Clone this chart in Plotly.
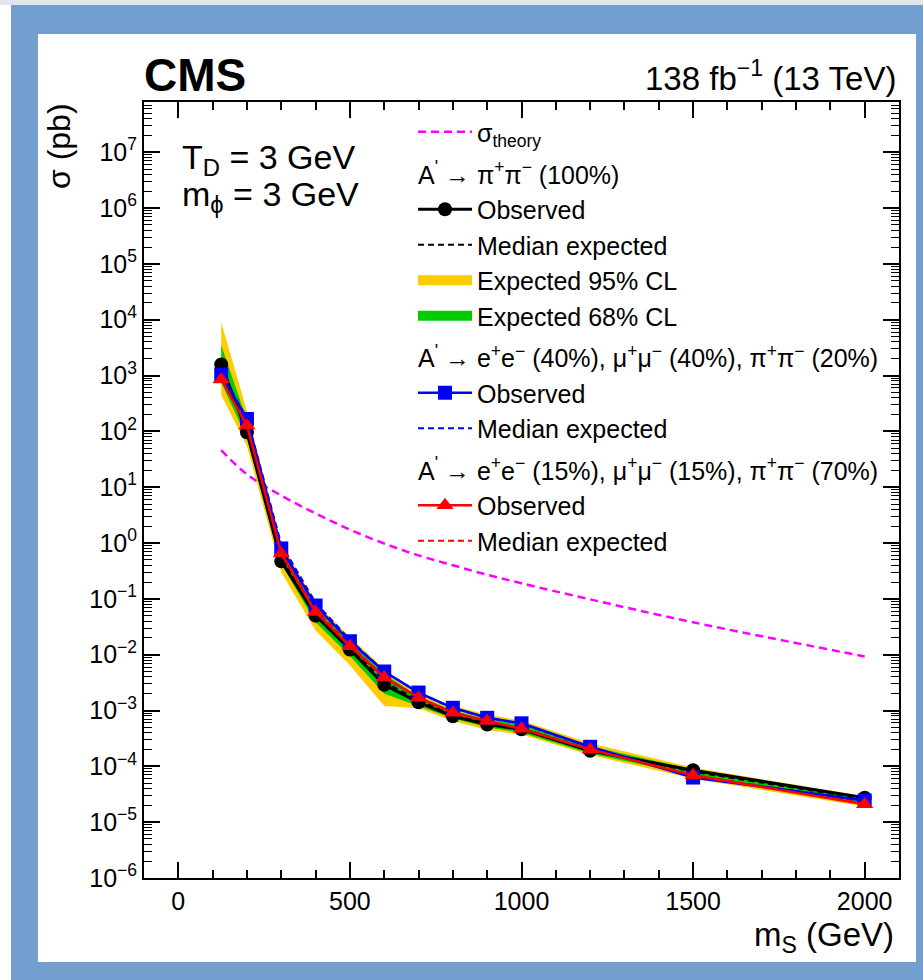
import plotly.graph_objects as go

# ---------------- data ----------------
mass = [125, 200, 300, 400, 500, 600, 700, 800, 900, 1000, 1200, 1500, 2000]

# A' -> pi+ pi- (100%)
obs_pipi = [1580, 96, 0.47, 0.050, 0.0124, 0.0029, 0.0014, 0.00079, 0.00056, 0.00046, 0.00019, 8.5e-5, 2.75e-5]
exp_pipi = [1300, 105, 0.55, 0.052, 0.0135, 0.0033, 0.0015, 0.00085, 0.00060, 0.00048, 0.00020, 8.0e-5, 2.6e-5]
exp95_lo = [450, 55, 0.30, 0.027, 0.0065, 0.0012, 0.0011, 0.00065, 0.00045, 0.00037, 0.00016, 6.0e-5, 1.9e-5]
exp95_hi = [9000, 230, 1.0, 0.085, 0.021, 0.0055, 0.0020, 0.0012, 0.00085, 0.00066, 0.00026, 9.5e-5, 2.9e-5]
exp68_lo = [750, 75, 0.42, 0.038, 0.0095, 0.0020, 0.0012, 0.00072, 0.00050, 0.00040, 0.00017, 6.8e-5, 2.1e-5]
exp68_hi = [3500, 160, 0.80, 0.068, 0.017, 0.0045, 0.0018, 0.0010, 0.00070, 0.00056, 0.00023, 8.8e-5, 2.7e-5]

# A' -> e+e- (40%), mu+mu- (40%), pi+pi- (20%)
obs_mix40 = [1040, 167, 0.80, 0.076, 0.0174, 0.0050, 0.0021, 0.00112, 0.00074, 0.00059, 0.000224, 6.3e-5, 2.45e-5]
exp_mix40 = [1100, 175, 0.95, 0.085, 0.0185, 0.0050, 0.0021, 0.00110, 0.00074, 0.00058, 0.00022, 6.6e-5, 2.4e-5]

# A' -> e+e- (15%), mu+mu- (15%), pi+pi- (70%)
obs_mix15 = [850, 127, 0.65, 0.058, 0.0142, 0.0039, 0.0017, 0.00091, 0.00065, 0.00047, 0.00020, 6.9e-5, 2.1e-5]
exp_mix15 = [900, 135, 0.75, 0.065, 0.0150, 0.0040, 0.0017, 0.00092, 0.00065, 0.00047, 0.00020, 7.0e-5, 2.2e-5]

# theory cross section
theory_mass = [125, 200, 300, 400, 500, 600, 700, 800, 900, 1000, 1200, 1500, 2000]
theory_xs = [46, 17, 7.1, 3.4, 1.74, 0.98, 0.60, 0.40, 0.27, 0.19, 0.098, 0.038, 0.0093]

x_tickvals = [0, 500, 1000, 1500, 2000]
x_ticktext = ["0", "500", "1000", "1500", "2000"]
y_exponents = list(range(-6, 8))
y_tickvals = [10.0 ** e for e in y_exponents]
y_ticktext = ["10<sup>%s</sup>" % (str(e) if e >= 0 else "\u2212" + str(-e)) for e in y_exponents]

# ---------------- styling ----------------
FONT = "Liberation Sans, Arial, Helvetica, sans-serif"
W, H = 923, 980
L, R, T, B = 144, 24, 102, 102
PW, PH = W - L - R, H - T - B
YELLOW, GREEN = "#ffcc00", "#00cc00"


def px2paper_x(px):
    return (px - L) / PW


def px2paper_y(py):
    return (H - B - py) / PH


fig = go.Figure()

# 95% band
fig.add_trace(go.Scatter(
    x=mass + mass[::-1], y=exp95_hi + exp95_lo[::-1], mode="lines", fill="toself",
    fillcolor=YELLOW, line=dict(width=0, color=YELLOW), showlegend=False, hoverinfo="skip"))
# 68% band
fig.add_trace(go.Scatter(
    x=mass + mass[::-1], y=exp68_hi + exp68_lo[::-1], mode="lines", fill="toself",
    fillcolor=GREEN, line=dict(width=0, color=GREEN), showlegend=False, hoverinfo="skip"))

# legend entries for the bands (legend only, no data)
fig.add_trace(go.Scatter(
    x=[None], y=[None], mode="lines", line=dict(color=YELLOW, width=15),
    name="Expected 95% CL", legendgroup="g1", legendrank=4))
fig.add_trace(go.Scatter(
    x=[None], y=[None], mode="lines", line=dict(color=GREEN, width=15),
    name="Expected 68% CL", legendgroup="g1", legendrank=5))

# theory
fig.add_trace(go.Scatter(
    x=theory_mass, y=theory_xs, mode="lines",
    line=dict(color="#ff00ff", width=2.5, dash="8px,5px", shape="spline"),
    name="\u03c3<sub>theory</sub>", legend="legend2"))

# medians
fig.add_trace(go.Scatter(
    x=mass, y=exp_pipi, mode="lines", line=dict(color="black", width=2, dash="6px,4px"),
    name="Median expected", legendgroup="g1", legendrank=3))
fig.add_trace(go.Scatter(
    x=mass, y=exp_mix40, mode="lines", line=dict(color="#0000ff", width=2, dash="6px,4px"),
    name="Median expected", legendgroup="g2", legendrank=7))
fig.add_trace(go.Scatter(
    x=mass, y=exp_mix15, mode="lines", line=dict(color="#ff0000", width=2, dash="6px,4px"),
    name="Median expected", legendgroup="g3", legendrank=9))

# observed
fig.add_trace(go.Scatter(
    x=mass, y=obs_pipi, mode="lines+markers", line=dict(color="black", width=3),
    marker=dict(symbol="circle", size=14, color="black", line=dict(width=0)),
    name="Observed", legendgroup="g1", legendrank=2,
    legendgrouptitle=dict(text="A<sup>'</sup> \u2192 \u03c0<sup>+</sup>\u03c0<sup>\u2212</sup> (100%)")))
fig.add_trace(go.Scatter(
    x=mass, y=obs_mix40, mode="lines+markers", line=dict(color="#0000ff", width=2.5),
    marker=dict(symbol="square", size=14, color="#0000ff", line=dict(width=0)),
    name="Observed", legendgroup="g2", legendrank=6,
    legendgrouptitle=dict(text="A<sup>'</sup> \u2192 e<sup>+</sup>e<sup>\u2212</sup> (40%), \u03bc<sup>+</sup>\u03bc<sup>\u2212</sup> (40%), \u03c0<sup>+</sup>\u03c0<sup>\u2212</sup> (20%)")))
fig.add_trace(go.Scatter(
    x=mass, y=obs_mix15, mode="lines+markers", line=dict(color="#ff0000", width=2.5),
    marker=dict(symbol="triangle-up", size=15, color="#ff0000", line=dict(width=0)),
    name="Observed", legendgroup="g3", legendrank=8,
    legendgrouptitle=dict(text="A<sup>'</sup> \u2192 e<sup>+</sup>e<sup>\u2212</sup> (15%), \u03bc<sup>+</sup>\u03bc<sup>\u2212</sup> (15%), \u03c0<sup>+</sup>\u03c0<sup>\u2212</sup> (70%)")))

# ---------------- layout ----------------
shapes = [
    dict(type="rect", xref="paper", yref="paper", layer="below",
         x0=px2paper_x(38), x1=px2paper_x(916), y0=px2paper_y(962), y1=px2paper_y(34),
         fillcolor="white", line=dict(width=0)),
    dict(type="rect", xref="paper", yref="paper", layer="below",
         x0=px2paper_x(0), x1=px2paper_x(11), y0=px2paper_y(980), y1=px2paper_y(0),
         fillcolor="white", line=dict(width=0)),
    dict(type="rect", xref="paper", yref="paper", layer="below",
         x0=px2paper_x(0), x1=px2paper_x(923), y0=px2paper_y(5), y1=px2paper_y(0),
         fillcolor="#dfe6ee", line=dict(width=0)),
]

annotations = [
    dict(text="<b>CMS</b>", x=px2paper_x(142), y=px2paper_y(75), xref="paper", yref="paper",
         xanchor="left", yanchor="middle", showarrow=False, font=dict(size=46, family=FONT, color="black")),
    dict(text="138 fb<sup>\u22121</sup> (13 TeV)", x=px2paper_x(898), y=px2paper_y(76), xref="paper", yref="paper",
         xanchor="right", yanchor="middle", showarrow=False, font=dict(size=33, family=FONT, color="black")),
    dict(text="T<sub>D</sub> = 3 GeV", x=px2paper_x(180), y=px2paper_y(160), xref="paper", yref="paper",
         xanchor="left", yanchor="middle", showarrow=False, font=dict(size=34, family=FONT, color="black")),
    dict(text="m<sub>\u03d5</sub> = 3 GeV", x=px2paper_x(180), y=px2paper_y(196), xref="paper", yref="paper",
         xanchor="left", yanchor="middle", showarrow=False, font=dict(size=34, family=FONT, color="black")),
    dict(text="\u03c3 (pb)", x=px2paper_x(59), y=px2paper_y(101), xref="paper", yref="paper",
         xanchor="center", yanchor="top", textangle=-90, showarrow=False,
         font=dict(size=32, family=FONT, color="black")),
    dict(text="m<sub>S</sub> (GeV)", x=px2paper_x(896), y=px2paper_y(937), xref="paper", yref="paper",
         xanchor="right", yanchor="middle", showarrow=False, font=dict(size=33, family=FONT, color="black")),
]

legend_common = dict(
    xanchor="left", yanchor="top", bgcolor="rgba(0,0,0,0)", borderwidth=0,
    font=dict(size=25, family=FONT, color="black"),
    grouptitlefont=dict(size=25, family=FONT, color="black"),
    traceorder="grouped", itemwidth=54,
)

fig.update_layout(
    width=W, height=H,
    margin=dict(l=L, r=R, t=T, b=B, pad=0),
    paper_bgcolor="#729fcf",
    plot_bgcolor="rgba(0,0,0,0)",
    font=dict(family=FONT, color="black", size=25),
    shapes=shapes,
    annotations=annotations,
    showlegend=True,
    legend=dict(x=px2paper_x(413), y=px2paper_y(151), tracegroupgap=6, **legend_common),
    legend2=dict(x=px2paper_x(413), y=px2paper_y(109), tracegroupgap=0, **legend_common),
    xaxis=dict(
        range=[-100, 2100], showgrid=False, zeroline=False,
        showline=True, linecolor="black", linewidth=2, mirror="ticks",
        tickmode="array", tickvals=x_tickvals, ticktext=x_ticktext,
        ticks="inside", ticklen=16, tickwidth=1.5, tickcolor="black",
        tickfont=dict(size=25, family=FONT, color="black"),
        minor=dict(dtick=100, ticks="inside", ticklen=8, tickwidth=1.5, tickcolor="black", showgrid=False),
    ),
    yaxis=dict(
        type="log", range=[-6, 7.9], showgrid=False, zeroline=False,
        showline=True, linecolor="black", linewidth=2, mirror="ticks",
        tickmode="array", tickvals=y_tickvals, ticktext=y_ticktext,
        ticks="inside", ticklen=16, tickwidth=1.5, tickcolor="black",
        tickfont=dict(size=25, family=FONT, color="black"),
        minor=dict(dtick="D1", ticks="inside", ticklen=8, tickwidth=1.2, tickcolor="black", showgrid=False),
    ),
)

fig.write_html("out.html")
